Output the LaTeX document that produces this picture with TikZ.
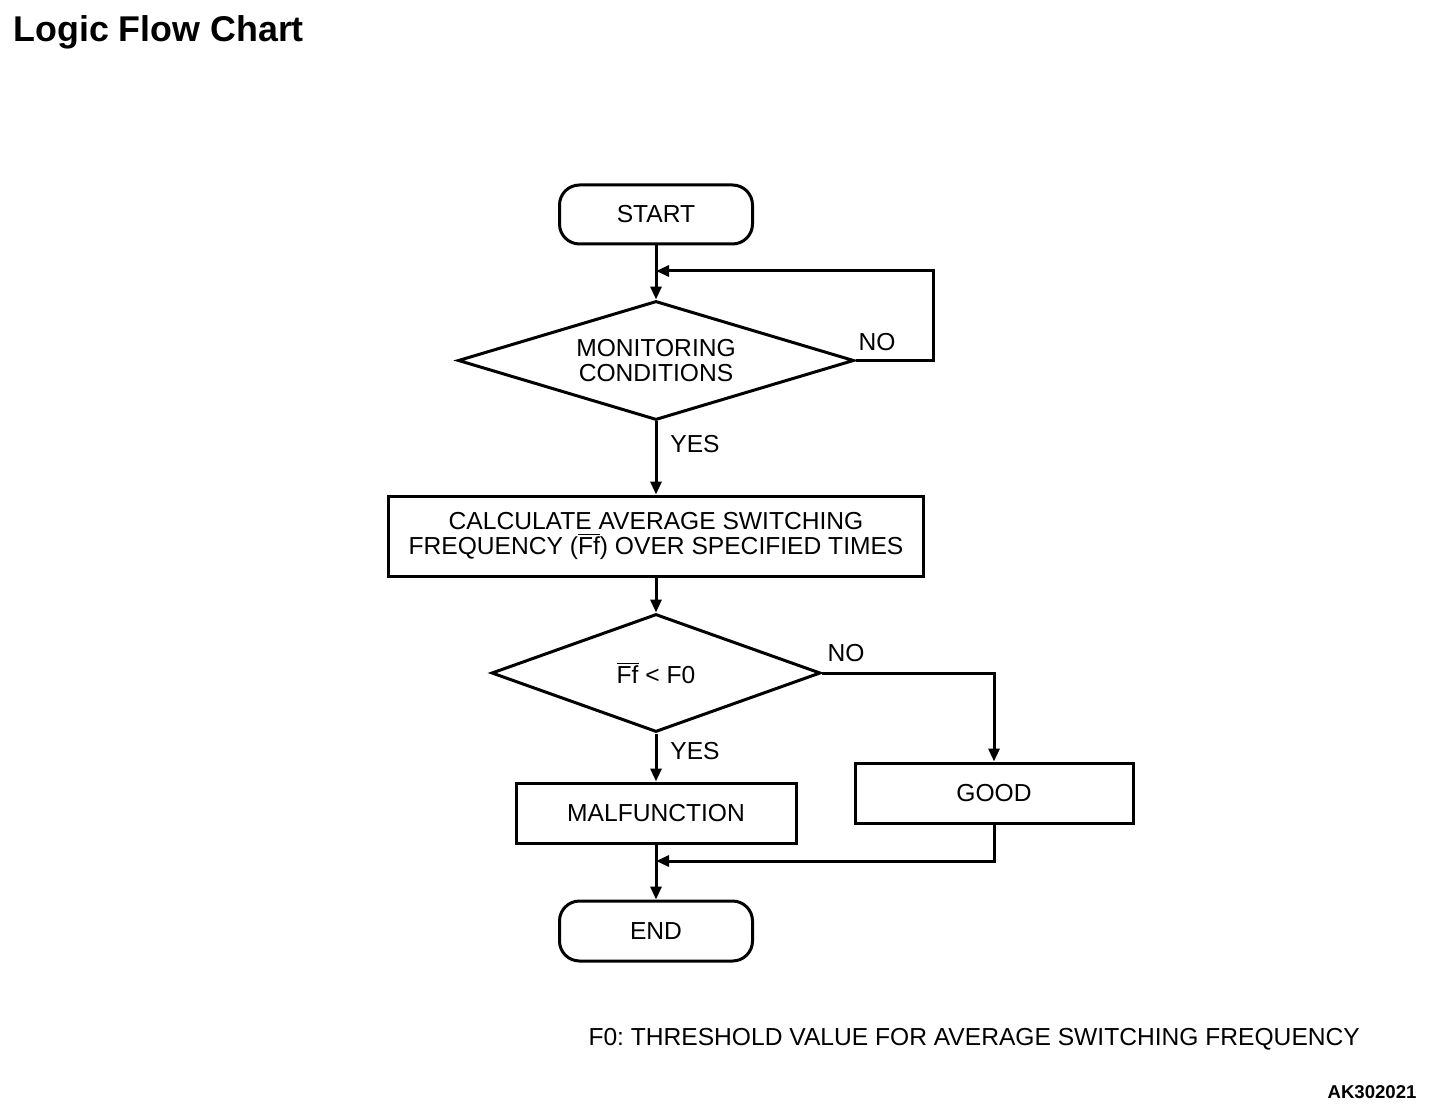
\documentclass[tikz,border=0pt]{standalone}
\usepackage{fontspec}
\setmainfont{Liberation Sans}
\usetikzlibrary{shapes.geometric,arrows.meta}
\tikzset{
  term/.style={draw, rectangle, rounded corners=10pt, minimum width=96.5pt, minimum height=29.5pt, inner sep=0pt},
  proc/.style={draw, rectangle, inner sep=0pt, align=center},
  test/.style={draw, diamond, inner sep=0pt, align=center},
  lbl/.style={inner sep=0pt}
}
\begin{document}
\begin{tikzpicture}[x=0.5pt, y=-0.5pt, line width=1.5pt, >={Triangle[length=6.5pt,width=5.5pt]},
    font=\fontsize{12.3}{12.8}\selectfont\frenchspacing]
		\useasboundingbox (0,0) rectangle (1456,1118);
		\node (title) [lbl, anchor=base west, font=\fontsize{17.9}{20}\selectfont\bfseries] at (12,42) {Logic Flow Chart};
		\node (start) [term] at (656,214.5) {START};
		\node (d1) [test, aspect=3.33, minimum width=198pt, minimum height=59.5pt, below of = start, node distance=73pt] {MONITORING\\CONDITIONS};
		\node (calc) [proc, minimum width=267.5pt, minimum height=40pt, below of = d1, node distance=87.75pt] {CALCULATE AVERAGE SWITCHING\\FREQUENCY (\(\overline{\mbox{Ff}}\)) OVER SPECIFIED TIMES};
		\node (d2) [test, aspect=2.79, minimum width=164.5pt, minimum height=59pt, below of = calc, node distance=68.5pt] {\(\overline{\mbox{Ff}}\) < F0};
		\node (mal) [proc, minimum width=140pt, minimum height=30pt, below of = d2, node distance=70pt] {MALFUNCTION};
		\node (good) [proc, minimum width=139pt, minimum height=30pt, right of = d2, node distance=169pt, yshift=-60pt] {GOOD};
		\node (endn) [term, minimum height=30pt, below of = mal, node distance=59pt] {END};
		\coordinate (j1) at (656,271);
		\coordinate (j2) at (656,861);
		\node (no1) [lbl] at (877,342) {NO};
		\node (yes1) [lbl] at (695,444) {YES};
		\node (no2) [lbl] at (846,653) {NO};
		\node (yes2) [lbl] at (695,751) {YES};
		\node (note) [lbl, anchor=base west] at (587,1045) {F0: THRESHOLD VALUE FOR AVERAGE SWITCHING FREQUENCY};
		\node (code) [lbl, anchor=base east, font=\fontsize{9.3}{11}\selectfont\bfseries] at (1418,1098) {AK302021};
		\draw[->] (start) -- (d1);
		\draw[->] (d1.east) -- ++(78,0) |- (j1);
		\draw[->] (d1) -- (calc);
		\draw[->] (calc) -- (d2);
		\draw[->] (d2) -- (mal);
		\draw[->] (d2.east) -| (good.north);
		\draw[->] (good.south) |- (j2);
		\draw[->] (mal) -- (endn);
		\end{tikzpicture}
\end{document}
